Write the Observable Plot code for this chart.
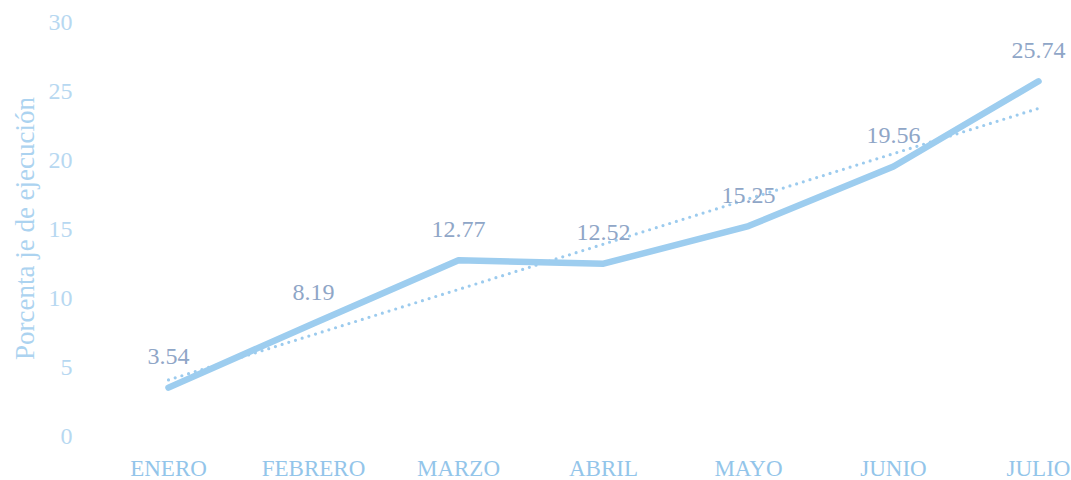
<!DOCTYPE html>
<html>
<head>
<meta charset="utf-8">
<script src="https://cdn.jsdelivr.net/npm/d3@7"></script>
<script src="https://cdn.jsdelivr.net/npm/@observablehq/plot@0.6"></script>
<style>
  html, body { margin: 0; padding: 0; background: #ffffff; }
  #chart svg { display: block; }
</style>
</head>
<body>
<div id="chart"></div>
<script>
const months = ["ENERO", "FEBRERO", "MARZO", "ABRIL", "MAYO", "JUNIO", "JULIO"];
const values = [3.54, 8.19, 12.77, 12.52, 15.25, 19.56, 25.74];
const yTicks = [0, 5, 10, 15, 20, 25, 30];
const yLabel = "Porcenta je de ejecución";

const data = months.map((m, i) => ({ month: m, value: values[i], i }));

// linear trend (least squares) computed from the series
const mx = d3.mean(data, d => d.i);
const my = d3.mean(values);
const slope = d3.sum(data, d => (d.i - mx) * (d.value - my)) / d3.sum(data, d => (d.i - mx) ** 2);
const intercept = my - slope * mx;
const trend = data.map(d => ({ month: d.month, value: intercept + slope * d.i }));

const font = "'Liberation Serif', 'DejaVu Serif', serif";

const chart = Plot.plot({
  width: 1071,
  height: 480,
  marginLeft: 82,
  marginRight: 31,
  marginTop: 22,
  marginBottom: 44,
  style: { fontFamily: font, background: "#ffffff" },
  x: { type: "point", domain: months, padding: 0, insetLeft: 84, label: null },
  y: { domain: [0, 30], label: null },
  marks: [
    Plot.axisY({
      ticks: yTicks, tickSize: 0, tickPadding: 10,
      fontSize: 24, color: "#b7d8f1", label: null
    }),
    Plot.axisX({
      tickSize: 0, tickPadding: 23, fontSize: 23, color: "#93c5ea", label: null
    }),
    Plot.text([yLabel], {
      frameAnchor: "left", dx: -57, dy: -1, rotate: -90,
      fontSize: 27, fill: "#acd3f0", textAnchor: "middle"
    }),
    Plot.line(trend, {
      x: "month", y: "value", stroke: "#9ccbee", strokeWidth: 3.2,
      strokeDasharray: "0 7", strokeLinecap: "round"
    }),
    Plot.line(data, {
      x: "month", y: "value", stroke: "#9dcdef", strokeWidth: 6.5,
      strokeLinecap: "round", strokeLinejoin: "round"
    }),
    Plot.text(data, {
      x: "month", y: "value", text: d => d.value.toFixed(2), dy: -31,
      fontSize: 24, fill: "#8fa6c7"
    })
  ]
});

document.getElementById("chart").appendChild(chart);
</script>
</body>
</html>
